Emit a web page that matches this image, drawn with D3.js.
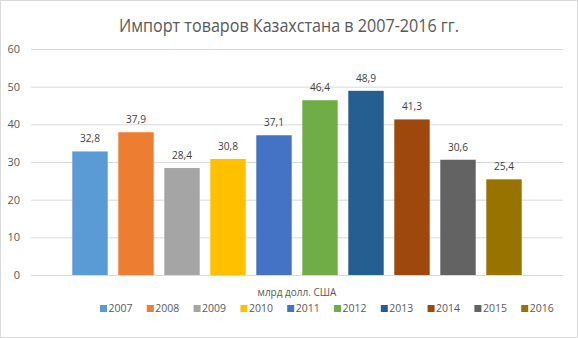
<!DOCTYPE html>
<html><head><meta charset="utf-8">
<script src="https://cdn.jsdelivr.net/npm/d3@7"></script>
<style>body{margin:0;background:#fff}svg{display:block}</style>
</head><body>
<svg id="c" width="578" height="338"></svg>
<script>
const title = "Импорт товаров Казахстана в 2007-2016 гг.";
const category = "млрд долл. США";
const years = ["2007","2008","2009","2010","2011","2012","2013","2014","2015","2016"];
const values = [32.8, 37.9, 28.4, 30.8, 37.1, 46.4, 48.9, 41.3, 30.6, 25.4];
const colors = ["#5B9BD5","#ED7D31","#A5A5A5","#FFC000","#4472C4","#70AD47","#255E91","#9E480E","#636363","#997300"];
const yTicks = [0,10,20,30,40,50,60];

const svg = d3.select("#c");
const font = "'Open Sans', 'Liberation Sans', sans-serif";
const W = 578, H = 338;
const plot = {l:31, r:563, t:49, b:275};

svg.append("rect").attr("x",0.5).attr("y",0.5).attr("width",W-1).attr("height",H-1)
  .attr("fill","#fff").attr("stroke","#d9d9d9");

const y = d3.scaleLinear().domain([0,60]).range([plot.b, plot.t]);
const x = d3.scaleBand().domain(years).range([67,527]).paddingInner(0.23).paddingOuter(0.115);

// gridlines
const yAxis = d3.axisLeft(y).tickValues(yTicks).tickSize(-(plot.r-plot.l)).tickPadding(11).tickFormat(d3.format("d"));
const ga = svg.append("g").attr("transform",`translate(${plot.l},0)`).call(yAxis);
ga.select(".domain").remove();
ga.selectAll(".tick line").attr("stroke","#d9d9d9");
ga.selectAll(".tick text").attr("fill","#595959").style("font-family",font).style("font-size","11px");

// bars
svg.append("g").selectAll("rect").data(values).join("rect")
  .attr("x",(d,i)=>x(years[i])).attr("width",x.bandwidth())
  .attr("y",d=>y(d)).attr("height",d=>y(0)-y(d))
  .attr("fill",(d,i)=>colors[i]);

// labels
svg.append("g").selectAll("text").data(values).join("text")
  .attr("x",(d,i)=>x(years[i])+x.bandwidth()/2).attr("y",d=>y(d)-9)
  .attr("text-anchor","middle").attr("fill","#404040")
  .style("font-family",font).style("font-size","11px")
  .attr("textLength",20).attr("lengthAdjust","spacingAndGlyphs")
  .text(d=>d3.format(".1f")(d).replace(".",","));

// title
svg.append("text").attr("x",289).attr("y",32).attr("text-anchor","middle")
  .attr("fill","#595959").style("font-family",font).style("font-size","18px")
  .attr("textLength",340).attr("lengthAdjust","spacingAndGlyphs")
  .text(title);

// category label
svg.append("text").attr("x",(plot.l+plot.r)/2).attr("y",296).attr("text-anchor","middle")
  .attr("fill","#595959").style("font-family",font).style("font-size","10px")
  .text(category);

// legend
const lg = svg.append("g").selectAll("g").data(years).join("g")
  .attr("transform",(d,i)=>`translate(${100+i*46.8},312)`);
lg.append("rect").attr("x",0).attr("y",-7).attr("width",7).attr("height",7).attr("fill",(d,i)=>colors[i]);
lg.append("text").attr("x",8.5).attr("y",0).attr("fill","#595959")
  .style("font-family",font).style("font-size","11px")
  .attr("textLength",24).attr("lengthAdjust","spacingAndGlyphs").text(d=>d);
</script>
</body></html>
